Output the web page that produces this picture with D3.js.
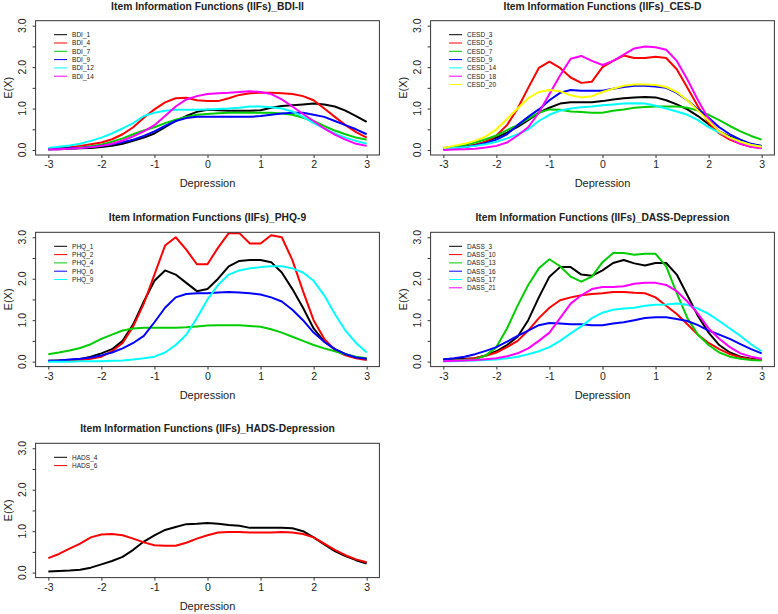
<!DOCTYPE html>
<html><head><meta charset="utf-8">
<script src="https://cdn.jsdelivr.net/npm/d3@7"></script>
<style>
body{margin:0;background:#fff}
svg{display:block}
text{font-family:"Liberation Sans",Arial,sans-serif}
</style></head>
<body><svg id="c" width="778" height="614"></svg>
<script>
// ---- data ----
const theta = [-3,-2.8,-2.6,-2.4,-2.2,-2,-1.8,-1.6,-1.4,-1.2,-1,-0.8,-0.6,-0.4,-0.2,0,0.2,0.4,0.6,0.8,1,1.2,1.4,1.6,1.8,2,2.2,2.4,2.6,2.8,3];
const xTicks = [-3,-2,-1,0,1,2,3];
const yTicks = [0,0.5,1,1.5,2,2.5,3];
const yLabels = [0,1,2,3];
const palette = ["#000000","#FF0000","#00CD00","#0000FF","#00FFFF","#FF00FF","#FFFF00"];

const titles = [
  "Item Information Functions (IIFs)_BDI-II",
  "Item Information Functions (IIFs)_CES-D",
  "Item Information Functions (IIFs)_PHQ-9",
  "Item Information Functions (IIFs)_DASS-Depression",
  "Item Information Functions (IIFs)_HADS-Depression"
];

const bdiNames = ["BDI_1","BDI_4","BDI_7","BDI_9","BDI_12","BDI_14"];
const bdi1  = [0.02,0.02,0.03,0.04,0.05,0.07,0.1,0.15,0.22,0.3,0.4,0.55,0.7,0.82,0.92,0.97,0.96,0.95,0.95,0.95,0.96,1.02,1.06,1.08,1.1,1.12,1.1,1.05,0.95,0.82,0.68];
const bdi4  = [0.03,0.05,0.07,0.1,0.14,0.18,0.26,0.38,0.55,0.78,0.98,1.15,1.25,1.26,1.2,1.18,1.18,1.25,1.33,1.37,1.38,1.38,1.37,1.35,1.3,1.2,1.0,0.8,0.6,0.43,0.3];
const bdi7  = [0.02,0.03,0.04,0.06,0.09,0.13,0.2,0.28,0.38,0.47,0.55,0.65,0.73,0.8,0.85,0.87,0.89,0.9,0.9,0.9,0.9,0.9,0.88,0.85,0.78,0.7,0.58,0.47,0.38,0.3,0.25];
const bdi9  = [0.02,0.03,0.04,0.05,0.07,0.1,0.14,0.19,0.25,0.34,0.45,0.58,0.7,0.77,0.8,0.8,0.8,0.8,0.8,0.8,0.82,0.85,0.88,0.9,0.9,0.85,0.8,0.7,0.6,0.5,0.38];
const bdi12 = [0.05,0.08,0.11,0.15,0.22,0.3,0.4,0.52,0.65,0.82,0.9,0.95,0.97,0.97,0.97,0.98,0.99,1.0,1.02,1.05,1.05,1.03,1.0,0.93,0.8,0.65,0.52,0.4,0.3,0.22,0.15];
const bdi14 = [0.01,0.02,0.03,0.05,0.07,0.1,0.15,0.23,0.33,0.45,0.6,0.82,1.05,1.22,1.3,1.35,1.37,1.38,1.4,1.42,1.4,1.35,1.22,1.05,0.87,0.7,0.52,0.37,0.25,0.15,0.1];

const cesdNames = ["CESD_3","CESD_6","CESD_7","CESD_9","CESD_14","CESD_18","CESD_20"];
const cesd3  = [0.05,0.06,0.08,0.12,0.2,0.3,0.42,0.56,0.72,0.9,1.02,1.12,1.15,1.15,1.15,1.18,1.22,1.25,1.27,1.28,1.27,1.2,1.1,0.98,0.82,0.62,0.45,0.32,0.22,0.14,0.1];
const cesd6  = [0.03,0.05,0.08,0.12,0.2,0.35,0.6,1.0,1.5,1.98,2.13,1.98,1.75,1.62,1.65,2.0,2.15,2.28,2.22,2.22,2.25,2.22,1.95,1.5,1.05,0.65,0.4,0.25,0.15,0.08,0.05];
const cesd7  = [0.05,0.08,0.12,0.18,0.26,0.35,0.48,0.6,0.75,0.9,0.98,0.97,0.93,0.92,0.9,0.9,0.95,0.98,1.02,1.04,1.05,1.05,1.05,1.02,0.95,0.85,0.72,0.58,0.45,0.34,0.25];
const cesd9  = [0.02,0.04,0.07,0.11,0.17,0.25,0.38,0.6,0.8,0.98,1.2,1.38,1.45,1.43,1.43,1.43,1.48,1.52,1.55,1.55,1.53,1.5,1.38,1.2,0.98,0.78,0.55,0.38,0.25,0.15,0.1];
const cesd14 = [0.03,0.05,0.07,0.1,0.14,0.2,0.28,0.38,0.5,0.7,0.85,0.95,1.0,1.03,1.05,1.08,1.1,1.12,1.13,1.12,1.07,1.0,0.93,0.85,0.72,0.55,0.42,0.3,0.2,0.12,0.08];
const cesd18 = [0.0,0.01,0.02,0.03,0.06,0.1,0.18,0.35,0.55,0.9,1.35,1.8,2.2,2.27,2.15,2.05,2.15,2.3,2.45,2.5,2.48,2.42,2.15,1.7,1.2,0.75,0.45,0.28,0.15,0.08,0.04];
const cesd20 = [0.05,0.1,0.15,0.22,0.33,0.5,0.75,1.0,1.25,1.4,1.45,1.42,1.32,1.27,1.3,1.4,1.48,1.55,1.58,1.58,1.57,1.52,1.4,1.2,0.95,0.7,0.45,0.3,0.2,0.12,0.08];

const phqNames = ["PHQ_1","PHQ_2","PHQ_4","PHQ_6","PHQ_9"];
const phq1 = [0.02,0.03,0.04,0.06,0.12,0.2,0.3,0.5,0.9,1.45,1.95,2.2,2.1,1.9,1.7,1.75,2.0,2.3,2.43,2.45,2.45,2.4,2.15,1.75,1.3,0.8,0.48,0.3,0.18,0.1,0.06];
const phq2 = [0.01,0.02,0.03,0.04,0.07,0.12,0.25,0.45,0.85,1.4,2.1,2.8,3.0,2.7,2.35,2.35,2.75,3.1,3.1,2.85,2.85,3.05,3.0,2.45,1.7,1.0,0.55,0.28,0.15,0.08,0.04];
const phq4 = [0.18,0.22,0.27,0.33,0.42,0.55,0.65,0.75,0.8,0.82,0.82,0.82,0.82,0.83,0.85,0.87,0.88,0.88,0.88,0.86,0.84,0.78,0.7,0.6,0.5,0.4,0.32,0.25,0.18,0.12,0.08];
const phq6 = [0.02,0.03,0.05,0.07,0.1,0.15,0.22,0.32,0.45,0.62,0.95,1.3,1.55,1.63,1.65,1.65,1.67,1.68,1.67,1.65,1.62,1.55,1.45,1.25,1.0,0.7,0.48,0.3,0.18,0.1,0.07];
const phq9 = [0.0,0.0,0.0,0.01,0.01,0.01,0.02,0.03,0.05,0.08,0.12,0.22,0.4,0.65,1.05,1.5,1.85,2.1,2.2,2.25,2.28,2.3,2.3,2.25,2.15,1.95,1.6,1.15,0.75,0.45,0.22];

const dassNames = ["DASS_3","DASS_10","DASS_13","DASS_16","DASS_17","DASS_21"];
const dass3  = [0.06,0.06,0.07,0.08,0.15,0.25,0.4,0.6,1.0,1.55,2.05,2.28,2.28,2.1,2.07,2.2,2.38,2.45,2.37,2.32,2.38,2.38,2.1,1.6,1.1,0.7,0.4,0.22,0.12,0.07,0.05];
const dass10 = [0.02,0.03,0.05,0.08,0.14,0.22,0.35,0.5,0.75,1.05,1.3,1.48,1.55,1.6,1.63,1.65,1.68,1.68,1.66,1.65,1.55,1.35,1.15,0.9,0.65,0.45,0.3,0.18,0.1,0.06,0.05];
const dass13 = [0.02,0.03,0.04,0.05,0.15,0.35,0.8,1.35,1.85,2.25,2.47,2.3,2.05,1.93,2.05,2.4,2.62,2.62,2.58,2.6,2.6,2.3,1.65,1.05,0.65,0.4,0.22,0.12,0.07,0.04,0.03];
const dass16 = [0.05,0.08,0.12,0.18,0.26,0.35,0.48,0.62,0.75,0.88,0.93,0.92,0.9,0.9,0.88,0.88,0.92,0.95,1.0,1.05,1.07,1.07,1.03,0.98,0.88,0.75,0.65,0.55,0.42,0.3,0.2];
const dass17 = [0.01,0.01,0.02,0.03,0.04,0.05,0.08,0.12,0.18,0.25,0.35,0.5,0.68,0.85,1.05,1.18,1.25,1.28,1.3,1.35,1.37,1.38,1.4,1.37,1.28,1.15,0.98,0.8,0.62,0.42,0.25];
const dass21 = [0.01,0.02,0.03,0.04,0.06,0.08,0.13,0.2,0.32,0.5,0.7,1.05,1.4,1.6,1.75,1.8,1.8,1.82,1.88,1.9,1.9,1.85,1.7,1.45,1.15,0.8,0.55,0.35,0.2,0.12,0.07];

const hadsNames = ["HADS_4","HADS_6"];
const hads4 = [0.03,0.04,0.05,0.07,0.12,0.2,0.28,0.38,0.55,0.75,0.9,1.03,1.1,1.17,1.18,1.2,1.18,1.15,1.13,1.08,1.08,1.08,1.08,1.07,1.0,0.85,0.68,0.52,0.4,0.3,0.22];
const hads6 = [0.35,0.45,0.58,0.7,0.85,0.92,0.93,0.9,0.82,0.73,0.66,0.65,0.65,0.72,0.82,0.9,0.97,0.98,0.98,0.97,0.97,0.97,0.98,0.97,0.93,0.85,0.7,0.55,0.42,0.32,0.25];

const panelSeries = [
  [bdi1,bdi4,bdi7,bdi9,bdi12,bdi14],
  [cesd3,cesd6,cesd7,cesd9,cesd14,cesd18,cesd20],
  [phq1,phq2,phq4,phq6,phq9],
  [dass3,dass10,dass13,dass16,dass17,dass21],
  [hads4,hads6]
];
const panelNames = [bdiNames,cesdNames,phqNames,dassNames,hadsNames];

// ---- layout ----
const colLeft = [35.6, 430.6];
const rowTop = [20.7, 232.3, 443.3];
const boxW = 343.8, boxH = 134.3;

const svg = d3.select("#c");

panelSeries.forEach((series, p) => {
  const L = colLeft[p % 2], T = rowTop[Math.floor(p / 2)];
  const x = d3.scaleLinear().domain([-3.24, 3.24]).range([L, L + boxW]);
  const y = d3.scaleLinear().domain([-0.12, 3.12]).range([T + boxH, T]);
  const g = svg.append("g");

  const clipId = "clip" + p;
  g.append("clipPath").attr("id", clipId).append("rect")
    .attr("x", L).attr("y", T).attr("width", boxW).attr("height", boxH);

  const line = d3.line().x((d, i) => x(theta[i])).y(d => y(d));
  const lg = g.append("g").attr("clip-path", `url(#${clipId})`);
  series.forEach((s, k) => {
    lg.append("path").datum(s).attr("d", line)
      .attr("fill", "none").attr("stroke", palette[k])
      .attr("stroke-width", 2).attr("stroke-linejoin", "round");
  });

  // box
  g.append("rect").attr("x", L).attr("y", T).attr("width", boxW).attr("height", boxH)
    .attr("fill", "none").attr("stroke", "#333").attr("stroke-width", 1);

  // x axis
  const xa = g.append("g").attr("transform", `translate(0,${T + boxH})`)
    .call(d3.axisBottom(x).tickValues(xTicks).tickSize(3).tickPadding(3).tickFormat(d => String(d)));
  xa.select(".domain").remove();
  xa.selectAll("line").attr("stroke", "#333");
  xa.selectAll("text").attr("font-size", "10.5px").attr("fill", "#222")
    .attr("font-family", "Liberation Sans, Arial, sans-serif");

  // y axis
  const ya = g.append("g").attr("transform", `translate(${L},0)`)
    .call(d3.axisLeft(y).tickValues(yTicks).tickSize(3).tickFormat(""));
  ya.select(".domain").remove();
  ya.selectAll("line").attr("stroke", "#333");
  yLabels.forEach(v => {
    g.append("text").attr("transform", `translate(${L - 10},${y(v)}) rotate(-90)`)
      .attr("text-anchor", "middle").attr("font-size", "10.5px").attr("fill", "#222")
      .text(d3.format(".1f")(v));
  });

  // axis titles
  g.append("text").attr("x", L + boxW / 2).attr("y", T + boxH + 32)
    .attr("text-anchor", "middle").attr("font-size", "11px").attr("fill", "#222").text("Depression");
  g.append("text").attr("transform", `translate(${L - 24},${T + boxH / 2}) rotate(-90)`)
    .attr("text-anchor", "middle").attr("font-size", "11px").attr("fill", "#222").text("E(X)");

  // title
  g.append("text").attr("x", L + boxW / 2).attr("y", T - 11)
    .attr("text-anchor", "middle").attr("font-size", "10.3px").attr("font-weight", "bold")
    .attr("fill", "#222").text(titles[p]);

  // legend
  const names = panelNames[p];
  names.forEach((n, k) => {
    const ly = T + 14 + k * 8.3;
    g.append("line").attr("x1", L + 18.5).attr("x2", L + 31.5).attr("y1", ly).attr("y2", ly)
      .attr("stroke", palette[k]).attr("stroke-width", 1);
    g.append("text").attr("x", L + 36.5).attr("y", ly + 2.3).attr("font-size", "6.5px")
      .attr("fill", "#222").text(n);
  });
});
</script>
</body></html>
